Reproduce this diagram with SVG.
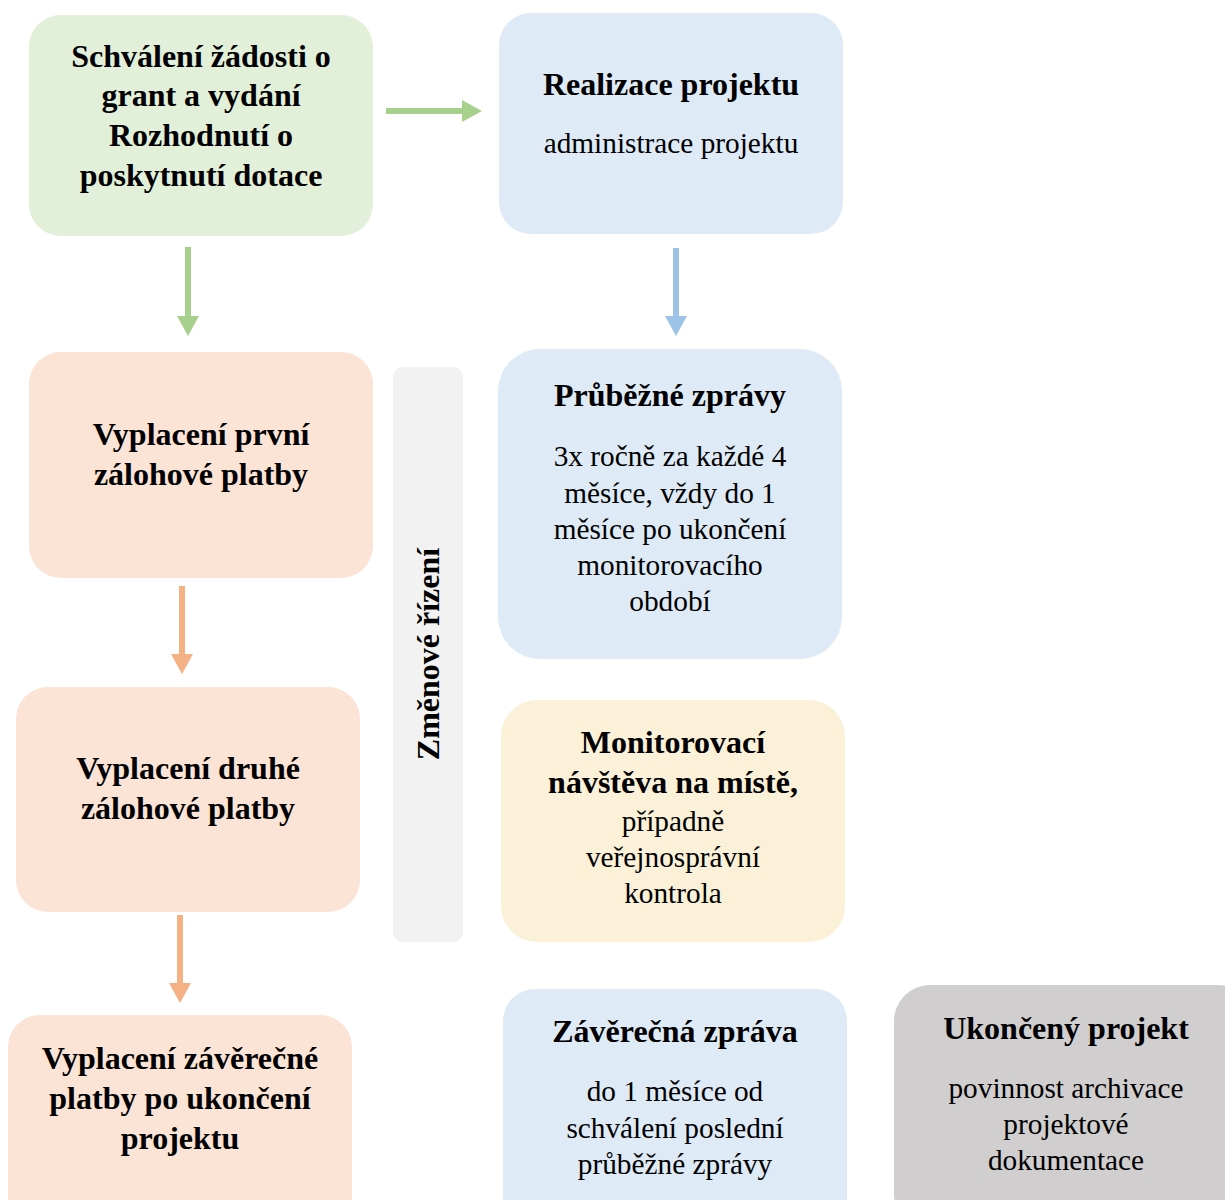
<svg xmlns="http://www.w3.org/2000/svg" width="1225" height="1200" viewBox="0 0 1225 1200">
<style>
text{font-family:'Liberation Serif','Times New Roman',serif;fill:#000;text-anchor:middle}
.t{font-size:32px;font-weight:bold}
.b{font-size:29.3px}
.green{fill:#e2efd9}
.blue{fill:#deeaf6}
.peach{fill:#fbe4d5}
.yellow{fill:#fbf1d9}
.grey{fill:#d0cece}
.bar{fill:#f2f2f2}
</style>
<g id="connectors" stroke-width="6" fill="none">
<path d="M386,111H464" stroke="#a8d08d"/><path d="M462,100L482,111L462,122Z" fill="#a8d08d"/>
<path d="M188,247V318" stroke="#a8d08d"/><path d="M177,316L188,336L199,316Z" fill="#a8d08d"/>
<path d="M676,248V318" stroke="#9dc3e6"/><path d="M665,316L676,336L687,316Z" fill="#9dc3e6"/>
<path d="M182,586V656" stroke="#f4b183"/><path d="M171,654L182,674L193,654Z" fill="#f4b183"/>
<path d="M180,915V985" stroke="#f4b183"/><path d="M169,983L180,1003L191,983Z" fill="#f4b183"/>
</g>
<g id="n1"><rect class="green" x="29" y="15" width="344" height="221" rx="32"/>
<text class="t"><tspan x="201" y="67">Schválení žádosti o</tspan><tspan x="201" y="106">grant a vydání</tspan><tspan x="201" y="146">Rozhodnutí o</tspan><tspan x="201" y="186">poskytnutí dotace</tspan></text></g>
<g id="n2"><rect class="blue" x="499" y="13" width="344" height="221" rx="32"/>
<text class="t" x="671" y="95">Realizace projektu</text>
<text class="b" x="671" y="153">administrace projektu</text></g>
<g id="n3"><rect class="peach" x="29" y="352" width="344" height="226" rx="32"/>
<text class="t"><tspan x="201" y="445">Vyplacení první</tspan><tspan x="201" y="485">zálohové platby</tspan></text></g>
<g id="n4"><rect class="bar" x="393" y="367" width="70" height="575" rx="10"/>
<text class="t" transform="translate(439,654) rotate(-90)" x="0" y="0">Změnové řízení</text></g>
<g id="n5"><rect class="blue" x="498" y="349" width="344" height="310" rx="42"/>
<text class="t" x="670" y="406">Průběžné zprávy</text>
<text class="b"><tspan x="670" y="466">3x ročně za každé 4</tspan><tspan x="670" y="503">měsíce, vždy do 1</tspan><tspan x="670" y="539">měsíce po ukončení</tspan><tspan x="670" y="575">monitorovacího</tspan><tspan x="670" y="611">období</tspan></text></g>
<g id="n6"><rect class="peach" x="16" y="687" width="344" height="225" rx="32"/>
<text class="t"><tspan x="188" y="779">Vyplacení druhé</tspan><tspan x="188" y="819">zálohové platby</tspan></text></g>
<g id="n7"><rect class="yellow" x="501" y="700" width="344" height="242" rx="36"/>
<text class="t"><tspan x="673" y="753">Monitorovací</tspan><tspan x="673" y="793">návštěva na místě,</tspan></text>
<text class="b"><tspan x="673" y="831">případně</tspan><tspan x="673" y="867">veřejnosprávní</tspan><tspan x="673" y="903">kontrola</tspan></text></g>
<g id="n8"><rect class="peach" x="8" y="1015" width="344" height="215" rx="32"/>
<text class="t"><tspan x="180" y="1069">Vyplacení závěrečné</tspan><tspan x="180" y="1109">platby po ukončení</tspan><tspan x="180" y="1149">projektu</tspan></text></g>
<g id="n9"><rect class="blue" x="503" y="989" width="344" height="240" rx="32"/>
<text class="t" x="675" y="1042">Závěrečná zpráva</text>
<text class="b"><tspan x="675" y="1101">do 1 měsíce od</tspan><tspan x="675" y="1138">schválení poslední</tspan><tspan x="675" y="1174">průběžné zprávy</tspan></text></g>
<g id="n10"><rect class="grey" x="894" y="985" width="360" height="245" rx="36"/>
<text class="t" x="1066" y="1039">Ukončený projekt</text>
<text class="b"><tspan x="1066" y="1098">povinnost archivace</tspan><tspan x="1066" y="1134">projektové</tspan><tspan x="1066" y="1170">dokumentace</tspan></text></g>
</svg>
